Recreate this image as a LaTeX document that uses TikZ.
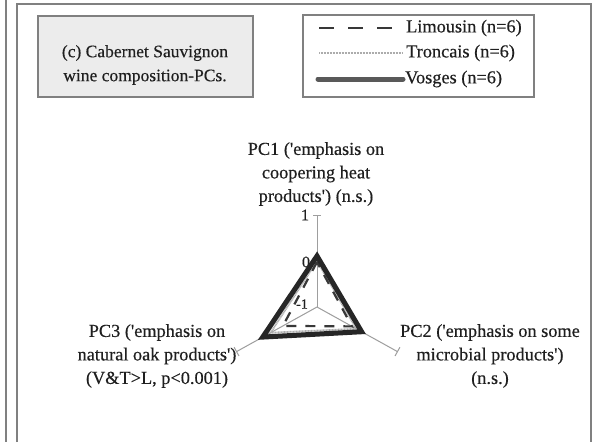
\documentclass[tikz,border=0pt]{standalone}
\usepackage{fontspec}
\setmainfont{Liberation Serif}
\newfontfamily\scanfont[FakeBold=0.35]{Liberation Serif}
\usetikzlibrary{calc}
\definecolor{framegray}{gray}{0.5}
\definecolor{axisgray}{gray}{0.62}
\definecolor{inkgray}{gray}{0.22}
\tikzset{
  frameline/.style={draw=framegray, line width=1.5pt},
  axisline/.style={draw=axisgray, line width=1pt},
  lab/.style={font=\scanfont\fontsize{18.3}{23.5}\selectfont, align=center, inner sep=0pt, text=black!88},
  ticklab/.style={font=\scanfont\fontsize{16}{18}\selectfont, inner sep=0pt, text=black!88},
  limousin/.style={draw=inkgray, line width=2.6pt, dash pattern=on 15pt off 14pt},
  troncais/.style={draw=gray!65, line width=1.8pt, dash pattern=on 0.9pt off 0.6pt},
  vosges/.style={draw=black!85, line width=5pt, line join=miter},
}
\begin{document}
\begin{tikzpicture}[x=1pt,y=-1pt]
\useasboundingbox (0,0) rectangle (593,442);
\fill[white] (0,0) rectangle (593,442);

% outer frame lines
\draw[frameline] (6,0) -- (6,442);
\draw[frameline] (17,442) -- (17,4) -- (591,4) -- (591,442);

% title box
\node[draw=framegray, line width=1.3pt, fill=gray!15, minimum width=215pt, minimum height=81pt,
      inner sep=0pt] (title) at (145.5,56.5) {};
\node[lab, font=\scanfont\fontsize{17.5}{24}\selectfont] (titletext) at (145,65)
  {(c) Cabernet Sauvignon\\wine composition-PCs.};

% legend box
\node[draw=framegray, line width=1.3pt, minimum width=231pt, minimum height=82pt, inner sep=0pt]
  (legend) at (418.5,56) {};
\coordinate (l1a) at (319,28); \coordinate (l1b) at (393,28);
\coordinate (l2a) at (319,53); \coordinate (l2b) at (402,53);
\coordinate (l3a) at (318,79); \coordinate (l3b) at (403,79);
\draw[limousin] (l1a) -- (l1b);
\draw[troncais, line width=2pt] (l2a) -- (l2b);
\draw[draw=black!65, line width=5pt, line cap=round] (l3a) -- (l3b);
\node[lab, anchor=west] (leg1) at (406,28) {Limousin (n=6)};
\node[lab, anchor=west] (leg2) at (406,53) {Troncais (n=6)};
\node[lab, anchor=west] (leg3) at (405,79) {Vosges (n=6)};

% radar axes
\coordinate (c) at (317,307);
\coordinate (pc1) at ($(c)+(-90:92)$);
\coordinate (pc2) at ($(c)+(29:92)$);
\coordinate (pc3) at ($(c)+(151:92)$);
\draw[axisline] (c) -- (pc1);
\draw[axisline] (c) -- (pc2);
\draw[axisline] (c) -- (pc3);
\draw[axisline] ($(pc1)+(-4,0)$) -- ($(pc1)+(4,0)$);
\draw[axisline] ($(pc2)+(119:5)$) -- ($(pc2)+(-61:5)$);
\draw[axisline] ($(pc3)+(61:5)$) -- ($(pc3)+(-119:5)$);

% scale labels on PC1
\node[ticklab] (t1) at (305,215) {1};
\node[ticklab] (t0) at (306,262) {0};
\node[ticklab, font=\scanfont\fontsize{14}{16}\selectfont] (tm1) at (302,304) {-1};

% group profiles
\draw[troncais] ($(c)+(-90:46)$) -- ($(c)+(29:45)$) -- ($(c)+(151:53)$) -- cycle;
\draw[limousin, line width=2.2pt, dash pattern=on 10pt off 9pt]
  ($(c)+(-90:45)$) -- ($(c)+(151:39)$) -- ($(c)+(29:40)$) -- cycle;
\draw[vosges] ($(c)+(-90:51)$) -- ($(c)+(29:51)$) -- ($(c)+(151:62)$) -- cycle;

% axis captions
\node[lab] (cap1) at (316,174) {PC1 ('emphasis on\\coopering heat\\products') (n.s.)};
\node[lab] (cap3) at (157,356) {PC3 ('emphasis on\\natural oak products')\\(V\&T>L, p<0.001)};
\node[lab] (cap2) at (490,356) {PC2 ('emphasis on some\\microbial products')\\(n.s.)};
\end{tikzpicture}
\end{document}
